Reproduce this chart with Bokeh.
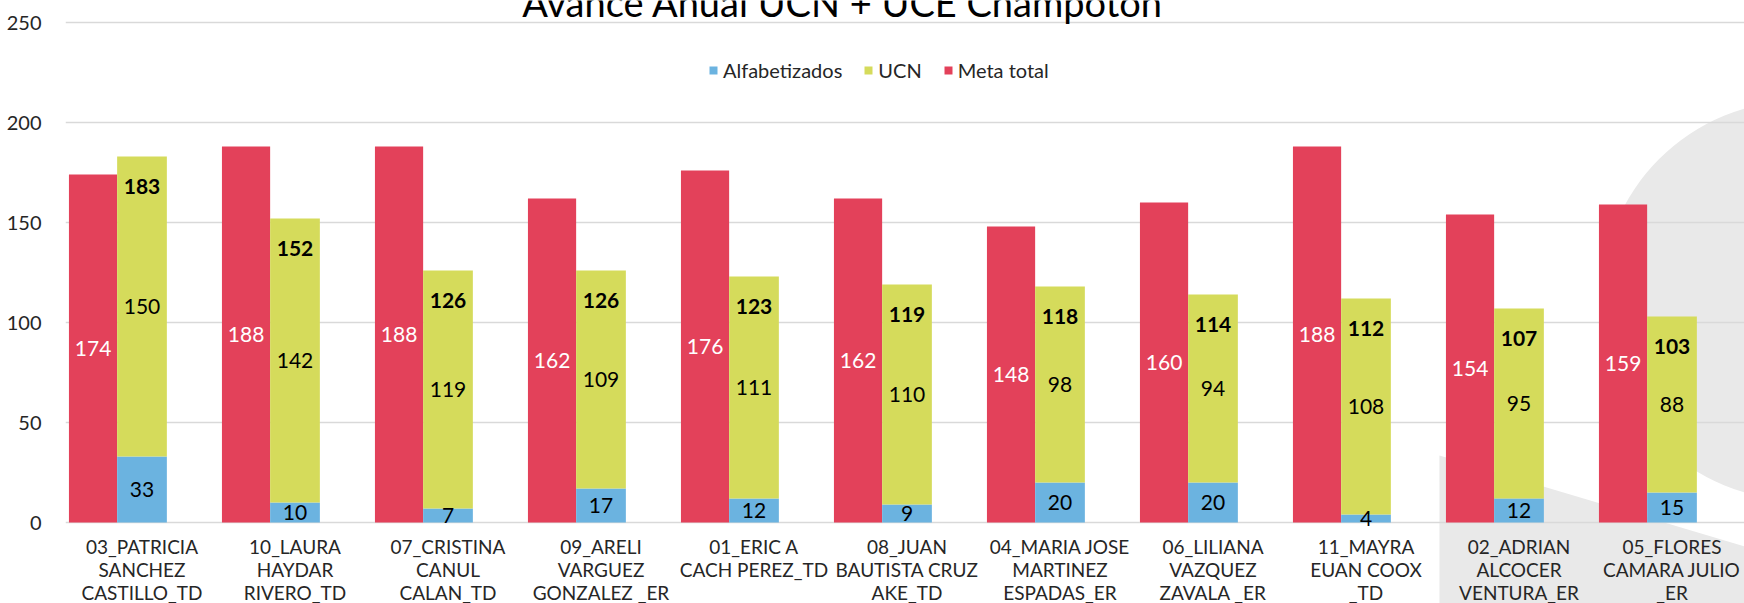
import numpy as np
from bokeh.plotting import figure
from bokeh.models import (ColumnDataSource, Range1d, FixedTicker, Legend, LegendItem,
                          PolyAnnotation)
from bokeh.core.properties import value
from bokeh.embed import file_html
from bokeh.resources import INLINE

# ---------------- data ----------------
categories = [
    "03_PATRICIA\nSANCHEZ\nCASTILLO_TD",
    "10_LAURA\nHAYDAR\nRIVERO_TD",
    "07_CRISTINA\nCANUL\nCALAN_TD",
    "09_ARELI\nVARGUEZ\nGONZALEZ _ER",
    "01_ERIC A\nCACH PEREZ_TD",
    "08_JUAN\nBAUTISTA CRUZ\nAKE_TD",
    "04_MARIA JOSE\nMARTINEZ\nESPADAS_ER",
    "06_LILIANA\nVAZQUEZ\nZAVALA _ER",
    "11_MAYRA\nEUAN COOX\n_TD",
    "02_ADRIAN\nALCOCER\nVENTURA_ER",
    "05_FLORES\nCAMARA JULIO\n_ER",
]
meta_total = [174, 188, 188, 162, 176, 162, 148, 160, 188, 154, 159]
alfabetizados = [33, 10, 7, 17, 12, 9, 20, 20, 4, 12, 15]
ucn = [150, 142, 119, 109, 111, 110, 98, 94, 108, 95, 88]
y_ticks = [0, 50, 100, 150, 200, 250]
title_text = "Avance Anual UCN + UCE Champotón"

# ---------------- style ----------------
RED = "#E3415A"
BLUE = "#6BB3E0"
GREEN = "#D5DB5B"
GRID = "#D9D9D9"
BG_SHAPE = "#E9E9E9"
TXT = "#262626"
FONT = "Lato"

W, H = 1744, 603
LEFT = 65
CAT_PX = 153.0
PX_PER_UNIT = 2.0
ZERO_PX = 522          # vertical pixel of the value 0
frame_w = W - LEFT

n = len(categories)
centers = np.arange(n) + 0.5
meta = np.array(meta_total, dtype=float)
alf = np.array(alfabetizados, dtype=float)
uc = np.array(ucn, dtype=float)
tot = alf + uc

src = ColumnDataSource(dict(
    xr=centers - 0.32,
    xs=centers,
    meta=meta,
    meta_mid=meta / 2,
    alf=alf,
    alf_mid=alf / 2,
    tot=tot,
    ucn_mid=alf + uc / 2,
    tot_lab=tot - 15,
    meta_txt=[str(int(v)) for v in meta],
    alf_txt=[str(int(v)) for v in alf],
    ucn_txt=[str(int(v)) for v in uc],
    tot_txt=[str(int(v)) for v in tot],
))

y_top = ZERO_PX / PX_PER_UNIT
y_bottom = -(H - ZERO_PX) / PX_PER_UNIT

p = figure(width=W, height=H, output_backend="svg", toolbar_location=None,
           x_range=Range1d(0, frame_w / CAT_PX), y_range=Range1d(y_bottom, y_top),
           min_border_left=LEFT, min_border_right=0, min_border_top=0,
           min_border_bottom=0)
p.outline_line_color = None
p.background_fill_color = "white"
p.border_fill_color = "white"

# decorative background shapes
p.scatter(x=[11.34], y=[111], size=400, marker="circle",
          fill_color=BG_SHAPE, line_color=None, level="image")
band = PolyAnnotation(xs=[8.98, 12.0, 12.0, 8.98], ys=[33.5, -35.4, -45.0, -45.0],
                      fill_color=BG_SHAPE, fill_alpha=1.0, line_color=None, level="image")
p.add_layout(band)

# bars
r_meta = p.vbar(x="xr", top="meta", bottom=0, width=0.315, source=src,
                fill_color=RED, line_color=None)
r_alf = p.vbar(x="xs", top="alf", bottom=0, width=0.325, source=src,
               fill_color=BLUE, line_color=None)
r_ucn = p.vbar(x="xs", top="tot", bottom="alf", width=0.325, source=src,
               fill_color=GREEN, line_color=None)

# data labels
common = dict(source=src, text_align="center", text_baseline="middle",
              text_font=value(FONT), text_font_size="21px")
p.text(x="xr", y="meta_mid", text="meta_txt", text_color="white", **common)
p.text(x="xs", y="alf_mid", text="alf_txt", text_color="black", **common)
p.text(x="xs", y="ucn_mid", text="ucn_txt", text_color="black", **common)
p.text(x="xs", y="tot_lab", text="tot_txt", text_color="black",
       text_font_style="bold", **common)

# title (cut off at the top edge, as in the reference)
p.text(x=[5.08], y=[260.5], text=[title_text], text_align="center",
       text_baseline="alphabetic", text_font=value(FONT), text_font_size="38px",
       text_color="black")

# axes & grid
p.xgrid.grid_line_color = None
p.ygrid.grid_line_color = GRID
p.ygrid.grid_line_width = 1.5
p.yaxis.ticker = FixedTicker(ticks=y_ticks)
p.yaxis.axis_line_color = None
p.yaxis.major_tick_line_color = None
p.yaxis.minor_tick_line_color = None
p.yaxis.major_label_standoff = 18
p.yaxis.major_label_text_font = FONT
p.yaxis.major_label_text_font_size = "20px"
p.yaxis.major_label_text_color = TXT

p.xaxis.fixed_location = 0
p.xaxis.ticker = FixedTicker(ticks=list(centers))
p.xaxis.major_label_overrides = {float(c): lab for c, lab in zip(centers, categories)}
p.xaxis.axis_line_color = None
p.xaxis.major_tick_line_color = None
p.xaxis.minor_tick_line_color = None
p.xaxis.major_label_standoff = 6
p.xaxis.major_label_text_font = FONT
p.xaxis.major_label_text_font_size = "19px"
p.xaxis.major_label_text_line_height = 1.0
p.xaxis.major_label_text_color = TXT

# legend
legend = Legend(items=[LegendItem(label="Alfabetizados", renderers=[r_alf]),
                       LegendItem(label="UCN", renderers=[r_ucn]),
                       LegendItem(label="Meta total", renderers=[r_meta])],
                orientation="horizontal", location=(643, 521),
                glyph_width=10, glyph_height=10, label_standoff=5, spacing=21,
                padding=0, margin=0, border_line_color=None,
                background_fill_alpha=0, label_text_font=FONT,
                label_text_font_size="20px", label_text_color=TXT)
p.add_layout(legend, "center")

open("out.html", "w").write(file_html(p, INLINE))
